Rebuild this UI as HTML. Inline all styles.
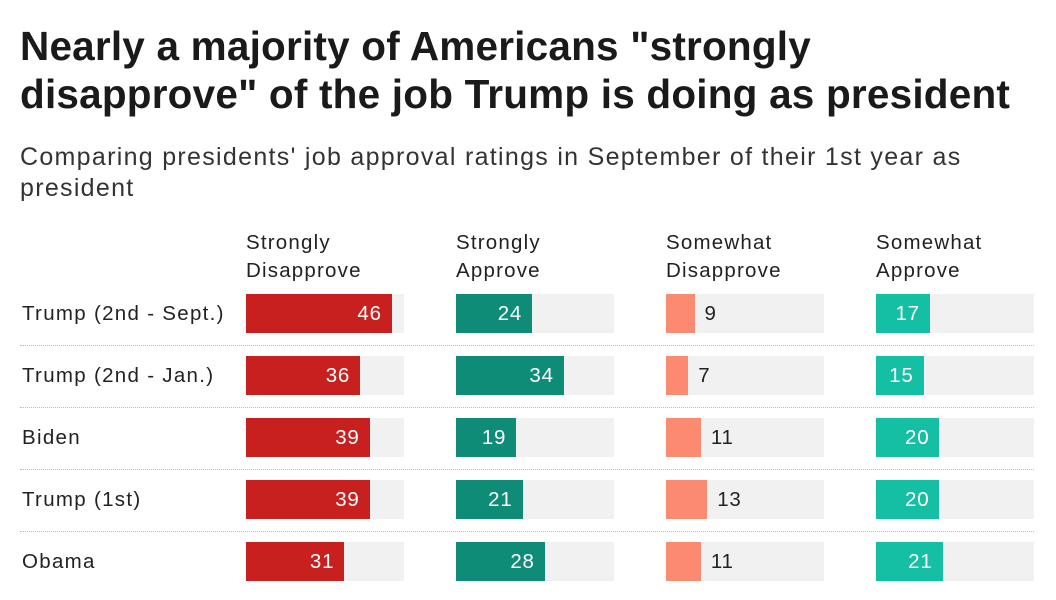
<!DOCTYPE html>
<html><head><meta charset="utf-8"><style>
body{margin:0;width:1056px;height:600px;background:#fff;font-family:"Liberation Sans",Arial,sans-serif;color:#222;overflow:hidden;position:relative}
h1{position:absolute;left:20px;top:22px;margin:0;font-size:40.5px;line-height:48px;font-weight:bold;color:#1a1a1a;letter-spacing:0.2px;white-space:nowrap}
.sub{position:absolute;left:20px;top:142px;font-size:25px;line-height:31px;color:#333;letter-spacing:1.3px;white-space:nowrap}
.hd{position:absolute;top:229px;font-size:20.5px;line-height:28px;color:#222;letter-spacing:1.2px}
.rl{position:absolute;left:22px;font-size:20.5px;color:#222;line-height:39px;letter-spacing:1.3px}
.tr{position:absolute;height:39px;background:#f1f1f1;width:158px}
.bar{position:absolute;left:0;top:0;height:39px}
.v{position:absolute;top:0;line-height:39px;font-size:20.5px;letter-spacing:0.8px}
.sep{position:absolute;left:20px;width:1014px;border-top:1px dotted #bbb}
</style></head><body>
<h1>Nearly a majority of Americans "strongly<br>disapprove" of the job Trump is doing as president</h1>
<div class="sub">Comparing presidents' job approval ratings in September of their 1st year as<br>president</div>
<div id="chart"></div>
<script>
const categories=["Trump (2nd - Sept.)","Trump (2nd - Jan.)","Biden","Trump (1st)","Obama"];
const seriesNames=["Strongly<br>Disapprove","Strongly<br>Approve","Somewhat<br>Disapprove","Somewhat<br>Approve"];
const stronglyDisapprove=[46,36,39,39,31];
const stronglyApprove=[24,34,19,21,28];
const somewhatDisapprove=[9,7,11,13,11];
const somewhatApprove=[17,15,20,20,21];
const series=[stronglyDisapprove,stronglyApprove,somewhatDisapprove,somewhatApprove];
const colors=["#c8201f","#0e8c78","#fb8a70","#14bfa3"];
const colX=[246,456,666,876], rowY0=294, rowStep=62, scale=3.17;
const x=v=>v*scale;
const root=document.getElementById('chart');
seriesNames.forEach((n,i)=>{const d=document.createElement('div');d.className='hd';d.style.left=colX[i]+'px';d.innerHTML=n;


root.appendChild(d);});
categories.forEach((c,r)=>{
 const y=rowY0+r*rowStep;
 const l=document.createElement('div');l.className='rl';l.style.top=y+'px';l.textContent=c;
 
 
 root.appendChild(l);
 if(r<categories.length-1){const s=document.createElement('div');s.className='sep';s.style.top=(y+51)+'px';
 
 
 root.appendChild(s);}
 series.forEach((arr,i)=>{
  const t=document.createElement('div');t.className='tr';t.style.left=colX[i]+'px';t.style.top=y+'px';
  
  
  const b=document.createElement('div');b.className='bar';b.style.width=x(arr[r])+'px';b.style.background=colors[i];
  
  
  t.appendChild(b);
  const v=document.createElement('div');v.className='v';v.textContent=arr[r];
  
  
  if(x(arr[r])>45){v.style.color='#fff';v.style.right=(158-x(arr[r])+10)+'px';}
  else{v.style.color='#222';v.style.left=(x(arr[r])+10)+'px';}
  t.appendChild(v);
  root.appendChild(t);
 });
});
</script>
</body></html>
